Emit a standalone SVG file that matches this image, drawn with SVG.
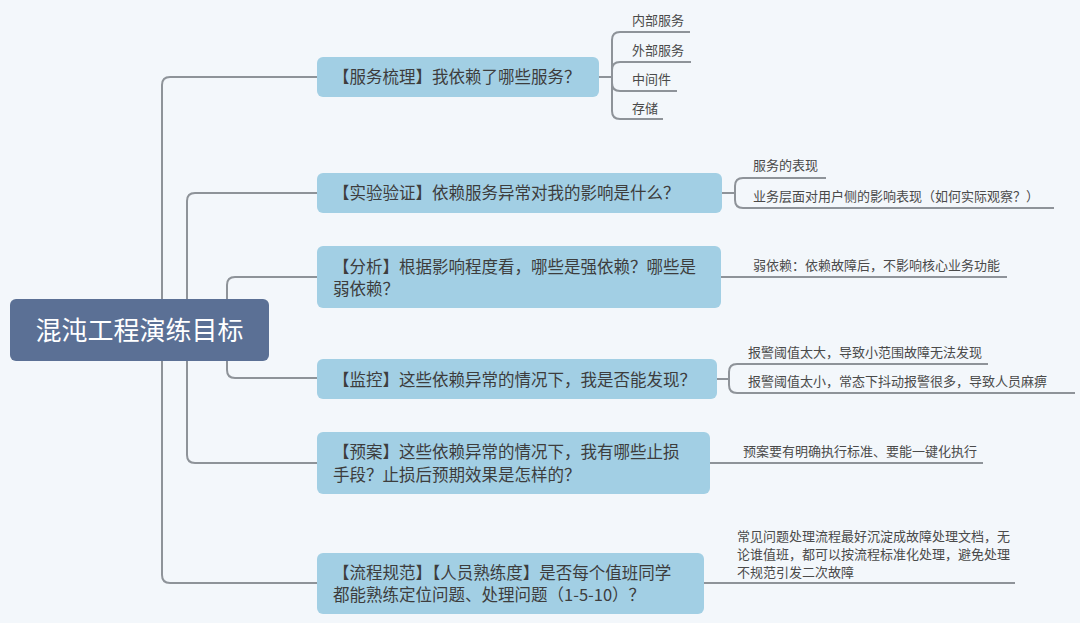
<svg xmlns="http://www.w3.org/2000/svg" width="1080" height="623" viewBox="0 0 1080 623">
<style>
.bg{fill:#f3f7fb}
.root{fill:#5b7095}
.rt{font-family:"Noto Sans CJK SC","Noto Sans",sans-serif;font-size:26px;fill:#ffffff;text-anchor:middle}
.box{fill:#a2cfe4}
.bt{font-family:"Noto Sans CJK SC","Noto Sans",sans-serif;font-size:16.5px;fill:#3d3d3d}
.lt{font-family:"Noto Sans CJK SC","Noto Sans",sans-serif;font-size:13px;fill:#4a4a4a}
.ln{fill:none;stroke:#8e9399;stroke-width:2}
</style>
<rect class="bg" x="0" y="0" width="1080" height="623"/>
<g id="connectors">
<path class="ln" d="M162,300 V85 Q162,77 170,77 H317"/>
<path class="ln" d="M162,360 V575 Q162,583 170,583 H317"/>
<path class="ln" d="M187,300 V201 Q187,193 195,193 H317"/>
<path class="ln" d="M187,360 V455 Q187,463 195,463 H317"/>
<path class="ln" d="M227,300 V285 Q227,277 235,277 H317"/>
<path class="ln" d="M227,360 V370 Q227,378 235,378 H317"/>
<path class="ln" d="M599,77 H612"/>
<path class="ln" d="M612,77 V40 Q612,32 620,32 H690"/>
<path class="ln" d="M612,77 V70 Q612,62 620,62 H691"/>
<path class="ln" d="M612,77 V83 Q612,91 620,91 H677"/>
<path class="ln" d="M612,77 V111 Q612,119 620,119 H663"/>
<path class="ln" d="M722,193 H735"/>
<path class="ln" d="M735,193 V186 Q735,178 743,178 H826"/>
<path class="ln" d="M735,193 V200 Q735,208 743,208 H1054"/>
<path class="ln" d="M721,277 H1007"/>
<path class="ln" d="M717,379 H729"/>
<path class="ln" d="M729,379 V372 Q729,364 737,364 H988"/>
<path class="ln" d="M729,379 V385 Q729,393 737,393 H1075"/>
<path class="ln" d="M710,463 H983"/>
<path class="ln" d="M704,583 H1015"/>
</g>
<g id="root">
<rect class="root" x="10" y="299" width="259" height="62" rx="6"/>
<text class="rt" x="139.5" y="340">混沌工程演练目标</text>
</g>
<g id="b1">
<rect class="box" x="317" y="57" width="282" height="40" rx="6"/>
<text class="bt" x="333" y="83">【服务梳理】我依赖了哪些服务？</text>
</g>
<g id="b2">
<rect class="box" x="317" y="173" width="405" height="40" rx="6"/>
<text class="bt" x="333" y="199">【实验验证】依赖服务异常对我的影响是什么？</text>
</g>
<g id="b3">
<rect class="box" x="317" y="246" width="404" height="62" rx="6"/>
<text class="bt" x="333" y="273">【分析】根据影响程度看，哪些是强依赖？哪些是</text>
<text class="bt" x="333" y="295">弱依赖？</text>
</g>
<g id="b4">
<rect class="box" x="317" y="359" width="400" height="40" rx="6"/>
<text class="bt" x="333" y="386">【监控】这些依赖异常的情况下，我是否能发现？</text>
</g>
<g id="b5">
<rect class="box" x="317" y="432" width="393" height="62" rx="6"/>
<text class="bt" x="333" y="458">【预案】这些依赖异常的情况下，我有哪些止损</text>
<text class="bt" x="333" y="481">手段？止损后预期效果是怎样的？</text>
</g>
<g id="b6">
<rect class="box" x="317" y="553" width="387" height="61" rx="6"/>
<text class="bt" x="333" y="579">【流程规范】【人员熟练度】是否每个值班同学</text>
<text class="bt" x="333" y="601">都能熟练定位问题、处理问题（1-5-10）？</text>
</g>
<g id="l1a"><text class="lt" x="632" y="25">内部服务</text></g>
<g id="l1b"><text class="lt" x="632" y="55">外部服务</text></g>
<g id="l1c"><text class="lt" x="632" y="84">中间件</text></g>
<g id="l1d"><text class="lt" x="632" y="113">存储</text></g>
<g id="l2a"><text class="lt" x="753" y="170">服务的表现</text></g>
<g id="l2b"><text class="lt" x="753" y="201">业务层面对用户侧的影响表现（如何实际观察？）</text></g>
<g id="l3a"><text class="lt" x="753" y="270">弱依赖：依赖故障后，不影响核心业务功能</text></g>
<g id="l4a"><text class="lt" x="748" y="357">报警阈值太大，导致小范围故障无法发现</text></g>
<g id="l4b"><text class="lt" x="748" y="386">报警阈值太小，常态下抖动报警很多，导致人员麻痹</text></g>
<g id="l5a"><text class="lt" x="743" y="456">预案要有明确执行标准、要能一键化执行</text></g>
<g id="l6a">
<text class="lt" x="737" y="541">常见问题处理流程最好沉淀成故障处理文档，无</text>
<text class="lt" x="737" y="559">论谁值班，都可以按流程标准化处理，避免处理</text>
<text class="lt" x="737" y="577">不规范引发二次故障</text>
</g>
</svg>
